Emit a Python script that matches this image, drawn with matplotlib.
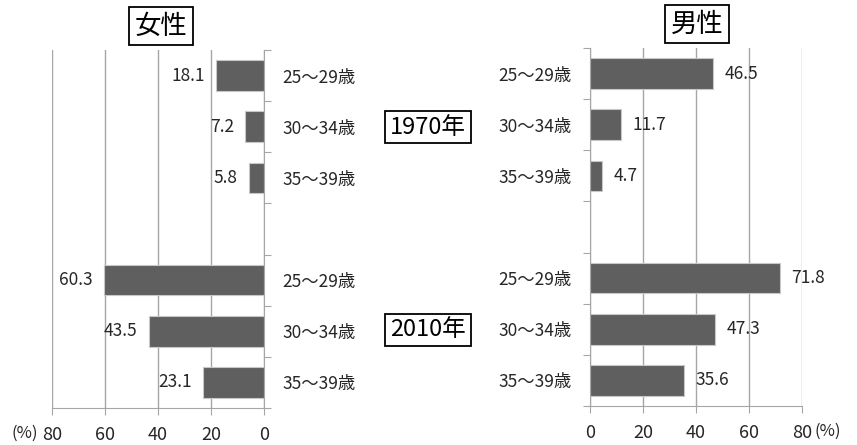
import matplotlib
matplotlib.use("Agg")
import matplotlib.pyplot as plt
import numpy as np

plt.rcParams['font.family'] = ['Noto Sans CJK JP', 'DejaVu Sans']

age_groups = ["25～29歳", "30～34歳", "35～39歳"]
years = ["1970年", "2010年"]
female_1970 = [18.1, 7.2, 5.8]
female_2010 = [60.3, 43.5, 23.1]
male_1970 = [46.5, 11.7, 4.7]
male_2010 = [71.8, 47.3, 35.6]
x_ticks = [0, 20, 40, 60, 80]

W, H = 857, 445
fig = plt.figure(figsize=(W / 100, H / 100), dpi=100)

pos = [0, 1, 2, 4, 5, 6]
labels = age_groups + age_groups
female = female_1970 + female_2010
male = male_1970 + male_2010

bar_color = '#5f5f5f'
edge_color = '#c8c8c8'
grid_color = '#a6a6a6'
txt_color = '#262626'
fs = 12.5

def setup(ax, side):
    ax.set_ylim(6.5, -0.5)
    ax.set_xticks(x_ticks)
    ax.set_yticks(np.arange(-0.5, 7.0, 1.0))
    ax.set_yticklabels([])
    ax.set_yticks(pos, minor=True)
    ax.set_yticklabels(labels, minor=True, fontsize=fs, color=txt_color)
    ax.tick_params(axis='y', which='minor', length=0, pad=13)
    ax.tick_params(axis='y', which='major', length=5, color=grid_color, direction='out')
    ax.tick_params(axis='x', length=5, color=grid_color, direction='out', pad=8,
                   labelsize=13, labelcolor=txt_color)
    ax.grid(axis='x', color=grid_color, lw=1)
    ax.set_axisbelow(True)
    for s in ['top', 'left', 'right']:
        ax.spines[s].set_visible(False)
    ax.spines['bottom'].set_color(grid_color)
    if side == 'left':
        ax.yaxis.tick_right()
        ax.spines['right'].set_visible(True)
        ax.spines['right'].set_color(grid_color)
    else:
        ax.yaxis.tick_left()
        ax.spines['left'].set_visible(True)
        ax.spines['left'].set_color(grid_color)

axL = fig.add_axes([52 / W, (H - 408) / H, 212 / W, 358 / H])
axL.set_xlim(80, 0)
setup(axL, 'left')
axL.barh(pos, female, height=0.6, color=bar_color, edgecolor=edge_color, lw=0.8)
for p, v in zip(pos, female):
    axL.annotate(f"{v:.1f}", (v, p), xytext=(-8, 0), textcoords='offset points',
                 ha='right', va='center', fontsize=fs, color=txt_color)

axR = fig.add_axes([590 / W, (H - 406) / H, 212 / W, 358 / H])
axR.set_xlim(0, 80)
setup(axR, 'right')
axR.barh(pos, male, height=0.6, color=bar_color, edgecolor=edge_color, lw=0.8)
for p, v in zip(pos, male):
    axR.annotate(f"{v:.1f}", (v, p), xytext=(8, 0), textcoords='offset points',
                 ha='left', va='center', fontsize=fs, color=txt_color)

box = dict(boxstyle='square,pad=0.2', fc='white', ec='black', lw=1.3)
fig.text(161 / W, 1 - 26 / H, "女性", ha='center', va='center', fontsize=19, bbox=box)
fig.text(697 / W, 1 - 24 / H, "男性", ha='center', va='center', fontsize=19, bbox=box)
fig.text(428 / W, 1 - 127 / H, years[0], ha='center', va='center', fontsize=17, bbox=box)
fig.text(428 / W, 1 - 330 / H, years[1], ha='center', va='center', fontsize=17, bbox=box)
fig.text(25 / W, 1 - 433 / H, "(%)", ha='center', va='center', fontsize=12, color=txt_color)
fig.text(828 / W, 1 - 431 / H, "(%)", ha='center', va='center', fontsize=12, color=txt_color)

fig.savefig("out.png", dpi=100)
